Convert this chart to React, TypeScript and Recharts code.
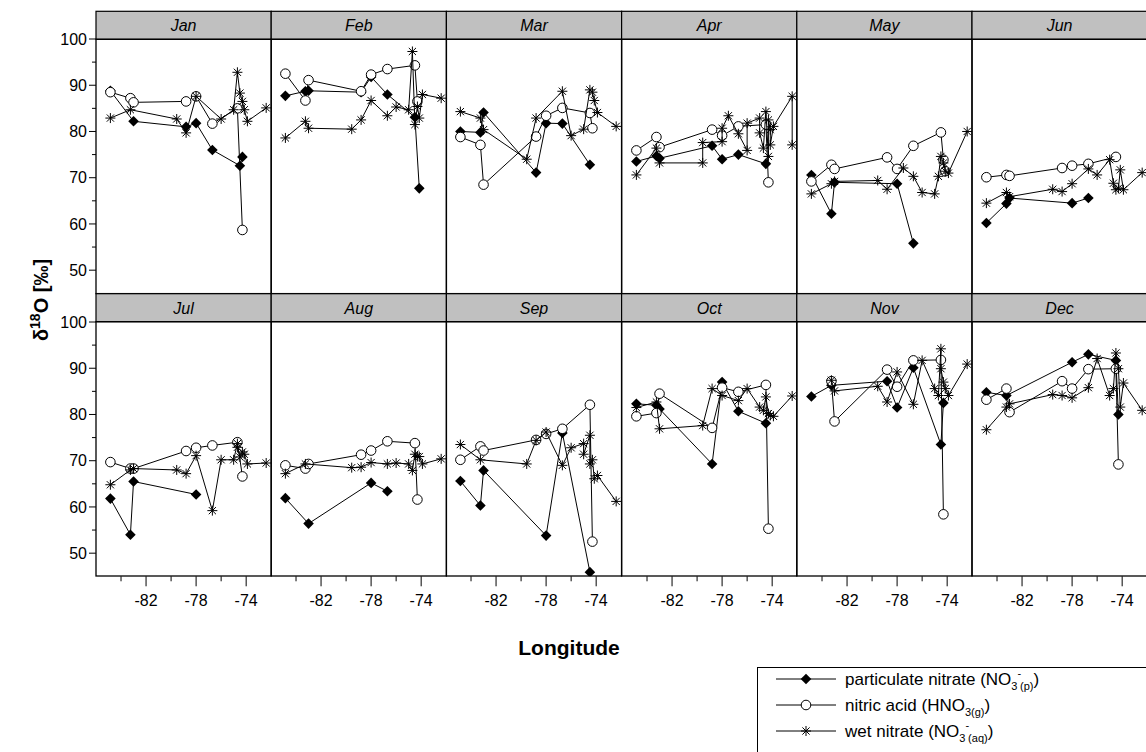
import React from 'react';
import { ScatterChart, Scatter, XAxis, YAxis } from 'recharts';

type Pt = [number, number];

// station longitudes (degrees east)
const A = -84.85, B = -83.25, C = -83.0, D = -79.55, E = -78.8, F = -78.0, P = -77.5, G = -76.7, H = -76.0, I = -75.0, J = -74.7, K = -74.5, L = -74.3, M = -74.15, N = -73.9, O = -72.4;

const months = ['Jan', 'Feb', 'Mar', 'Apr', 'May', 'Jun', 'Jul', 'Aug', 'Sep', 'Oct', 'Nov', 'Dec'];
const xTicks = [-84, -82, -80, -78, -76, -74];
const yTicks = [50, 55, 60, 65, 70, 75, 80, 85, 90, 95, 100];

// particulate nitrate (p), nitric acid (h), wet nitrate (w)
const janP: Pt[] = [[A, 88.8], [C, 82.2], [E, 81.0], [F, 81.8], [G, 76.0], [K, 72.6], [L, 74.5]];
const janH: Pt[] = [[A, 88.5], [B, 87.2], [C, 86.3], [E, 86.5], [F, 87.6], [G, 81.7], [J, 85.0], [L, 58.7]];
const janW: Pt[] = [[A, 82.9], [B, 84.7], [D, 82.7], [E, 79.7], [F, 87.6], [H, 82.7], [I, 84.7], [J, 92.8], [K, 88.3], [L, 86.5], [M, 84.7], [N, 82.2], [O, 85.1]];

const febP: Pt[] = [[A, 87.7], [B, 88.7], [C, 88.8], [E, 88.5], [F, 91.8], [G, 88.0], [K, 83.1], [M, 67.7]];
const febH: Pt[] = [[A, 92.5], [B, 86.7], [C, 91.1], [E, 88.7], [F, 92.3], [G, 93.5], [K, 94.3], [L, 86.5]];
const febW: Pt[] = [[A, 78.6], [B, 82.2], [C, 80.7], [D, 80.5], [E, 82.5], [F, 86.7], [G, 83.4], [H, 85.3], [I, 84.7], [J, 97.3], [K, 81.5], [L, 85.4], [M, 82.9], [N, 88.0], [O, 87.2]];

const marP: Pt[] = [[A, 80.0], [B, 79.8], [C, 84.1], [E, 71.1], [F, 81.8], [G, 81.7], [K, 72.8]];
const marH: Pt[] = [[A, 78.8], [B, 77.1], [C, 68.5], [E, 78.9], [F, 83.4], [G, 85.1], [K, 84.0], [L, 80.7]];
const marW: Pt[] = [[A, 84.3], [B, 82.9], [C, 80.4], [D, 74.0], [E, 82.9], [G, 88.7], [H, 79.1], [I, 80.5], [K, 89.0], [L, 88.5], [M, 86.7], [N, 84.1], [O, 81.1]];

const aprP: Pt[] = [[A, 73.5], [B, 74.7], [C, 74.2], [E, 76.9], [F, 74.0], [G, 75.0], [K, 73.0]];
const aprH: Pt[] = [[A, 75.9], [B, 78.8], [C, 76.6], [E, 80.4], [F, 79.1], [G, 81.1], [K, 81.5], [L, 69.0]];
const aprW: Pt[] = [[A, 70.6], [B, 76.4], [C, 73.2], [D, 73.2], [D, 77.6], [F, 77.8], [F, 80.7], [P, 83.4], [G, 79.5], [H, 75.9], [H, 81.8], [I, 82.9], [I, 79.7], [J, 76.4], [K, 84.3], [L, 74.6], [L, 82.5], [M, 80.4], [M, 77.1], [N, 81.1], [O, 87.6], [O, 77.1]];

const mayP: Pt[] = [[A, 70.6], [B, 62.2], [C, 69.0], [F, 68.7], [G, 55.8]];
const mayH: Pt[] = [[A, 69.2], [B, 72.8], [C, 71.9], [E, 74.4], [F, 71.9], [G, 76.9], [K, 79.8], [L, 73.9], [M, 71.4]];
const mayW: Pt[] = [[A, 66.5], [B, 68.7], [C, 69.2], [D, 69.4], [E, 67.5], [P, 72.1], [G, 70.3], [H, 66.8], [I, 66.5], [J, 70.3], [K, 74.6], [L, 73.2], [M, 71.4], [N, 71.0], [O, 80.0]];

const junP: Pt[] = [[A, 60.2], [B, 64.4], [C, 65.6], [F, 64.5], [G, 65.6]];
const junH: Pt[] = [[A, 70.1], [B, 70.6], [C, 70.4], [E, 72.1], [F, 72.6], [G, 73.0], [K, 74.5]];
const junW: Pt[] = [[A, 64.5], [B, 66.8], [C, 65.9], [D, 67.5], [E, 67.0], [F, 68.7], [G, 71.9], [H, 70.6], [I, 73.9], [J, 68.8], [K, 67.4], [L, 67.7], [M, 71.7], [N, 67.4], [O, 71.1]];

const julP: Pt[] = [[A, 61.8], [B, 54.0], [C, 65.5], [F, 62.7]];
const julH: Pt[] = [[A, 69.7], [B, 68.3], [C, 68.3], [E, 72.1], [F, 72.8], [G, 73.3], [J, 74.0], [L, 66.6]];
const julW: Pt[] = [[A, 64.8], [B, 68.0], [C, 68.3], [D, 68.0], [E, 67.2], [F, 71.1], [G, 59.2], [H, 70.2], [I, 70.2], [J, 73.7], [J, 72.9], [K, 70.8], [L, 71.9], [M, 71.4], [N, 69.3], [O, 69.5]];

const augP: Pt[] = [[A, 61.9], [C, 56.4], [F, 65.2], [G, 63.4]];
const augH: Pt[] = [[A, 69.0], [B, 68.3], [C, 69.3], [E, 71.3], [F, 72.2], [G, 74.2], [K, 73.8], [L, 61.6]];
const augW: Pt[] = [[A, 67.2], [B, 69.3], [D, 68.5], [E, 68.6], [F, 69.6], [G, 69.3], [H, 69.5], [I, 69.3], [J, 67.9], [K, 71.4], [L, 70.9], [M, 70.9], [N, 69.3], [O, 70.4]];

const sepP: Pt[] = [[A, 65.6], [B, 60.3], [C, 67.9], [F, 53.8], [G, 76.0], [K, 45.9]];
const sepH: Pt[] = [[A, 70.2], [B, 73.1], [C, 72.2], [E, 74.5], [F, 75.8], [G, 76.9], [K, 82.1], [L, 52.5]];
const sepW: Pt[] = [[A, 73.5], [B, 70.2], [D, 69.3], [E, 74.4], [F, 76.2], [G, 69.0], [H, 72.8], [I, 73.7], [I, 71.4], [K, 75.5], [K, 69.3], [L, 70.2], [M, 66.1], [N, 66.8], [O, 61.2]];

const octP: Pt[] = [[A, 82.3], [B, 82.0], [C, 81.2], [E, 69.3], [F, 87.0], [G, 80.7], [K, 78.1]];
const octH: Pt[] = [[A, 79.6], [B, 80.3], [C, 84.5], [E, 77.1], [F, 85.8], [G, 84.9], [K, 86.4], [L, 55.3]];
const octW: Pt[] = [[A, 81.5], [B, 82.7], [C, 76.9], [D, 77.6], [E, 85.6], [F, 84.1], [G, 83.0], [H, 85.6], [I, 81.6], [J, 80.9], [K, 83.8], [L, 80.2], [M, 79.8], [N, 79.6], [O, 84.0]];

const novP: Pt[] = [[A, 83.9], [B, 86.3], [E, 87.2], [F, 81.5], [G, 90.1], [K, 73.5], [L, 82.5]];
const novH: Pt[] = [[B, 87.2], [C, 78.5], [E, 89.7], [F, 86.0], [G, 91.7], [K, 91.8], [L, 58.4]];
const novW: Pt[] = [[B, 87.4], [C, 85.1], [D, 86.1], [E, 82.7], [F, 89.2], [G, 82.2], [H, 91.7], [I, 85.6], [J, 84.1], [K, 94.2], [K, 89.9], [L, 87.0], [M, 85.6], [N, 84.1], [O, 90.9]];

const decP: Pt[] = [[A, 84.8], [B, 84.1], [F, 91.3], [G, 93.0], [K, 91.7], [L, 80.0]];
const decH: Pt[] = [[A, 83.2], [B, 85.6], [C, 80.5], [E, 87.2], [F, 85.6], [G, 89.8], [K, 89.9], [L, 69.2]];
const decW: Pt[] = [[A, 76.7], [B, 81.6], [C, 82.3], [D, 84.3], [E, 84.1], [F, 83.6], [G, 85.8], [H, 92.1], [I, 84.1], [J, 85.6], [K, 93.3], [L, 89.9], [M, 81.6], [N, 86.8], [O, 80.9]];

const partSeries = [janP, febP, marP, aprP, mayP, junP, julP, augP, sepP, octP, novP, decP];
const acidSeries = [janH, febH, marH, aprH, mayH, junH, julH, augH, sepH, octH, novH, decH];
const wetSeries = [janW, febW, marW, aprW, mayW, junW, julW, augW, sepW, octW, novW, decW];

const FONT = '"Liberation Sans", Arial, Helvetica, sans-serif';
const COL_LEFT = 96;
const PANEL_W = 175.2;
const PANEL_H = 254.3;
const ROW_TOP = [39.3, 321.7];
const STRIP_H = 28;

const toXY = (pts: Pt[]) => pts.map(([x, y]) => ({ x, y }));

const Diamond = (props: any) => {
  const { cx, cy } = props;
  if (cx == null || cy == null) return null;
  const r = 5.3;
  return <polygon points={`${cx},${cy - r} ${cx + r},${cy} ${cx},${cy + r} ${cx - r},${cy}`} fill="#000" />;
};
const Ring = (props: any) => {
  const { cx, cy } = props;
  if (cx == null || cy == null) return null;
  return <circle cx={cx} cy={cy} r={4.8} fill="#fff" stroke="#000" strokeWidth={1} />;
};
const Star = (props: any) => {
  const { cx, cy } = props;
  if (cx == null || cy == null) return null;
  const r = 5;
  const d = r * 0.72;
  return (
    <g stroke="#000" strokeWidth={1}>
      <line x1={cx - r} y1={cy} x2={cx + r} y2={cy} />
      <line x1={cx} y1={cy - r} x2={cx} y2={cy + r} />
      <line x1={cx - d} y1={cy - d} x2={cx + d} y2={cy + d} />
      <line x1={cx - d} y1={cy + d} x2={cx + d} y2={cy - d} />
    </g>
  );
};

const XTick = (props: any) => {
  const { x, y, payload } = props;
  const v = payload.value;
  const major = Math.abs(v) % 4 === 2;
  return (
    <g>
      <line x1={x} y1={y} x2={x} y2={y + (major ? 10 : 5)} stroke="#000" strokeWidth={1} />
      {major && (
        <text x={x} y={y + 30} textAnchor="middle" fontSize={16} fontFamily={FONT} fill="#000">
          {String(v)}
        </text>
      )}
    </g>
  );
};

const YTick = (props: any) => {
  const { x, y, payload } = props;
  const v = payload.value;
  const major = v % 10 === 0;
  return (
    <g>
      <line x1={x - (major ? 7 : 4)} y1={y} x2={x} y2={y} stroke="#000" strokeWidth={1} />
      {major && (
        <text x={x - 9} y={y} dy="0.36em" textAnchor="end" fontSize={16} fontFamily={FONT} fill="#000">
          {String(v)}
        </text>
      )}
    </g>
  );
};

function Panel({ idx }: { idx: number }) {
  const col = idx % 6;
  const row = Math.floor(idx / 6);
  const showY = col === 0;
  const showX = row === 1;
  const yW = showY ? 60 : 0;
  const xH = showX ? 45 : 0;
  const padT = showY ? 12 : 0;
  const left = COL_LEFT + col * PANEL_W - yW;
  const top = ROW_TOP[row] - padT;
  const w = PANEL_W + yW;
  const h = PANEL_H + xH + padT;
  return (
    <div style={{ position: 'absolute', left, top, width: w, height: h }}>
      <ScatterChart width={w} height={h} margin={{ top: padT, right: 0, bottom: 0, left: 0 }}>
        <XAxis
          type="number"
          dataKey="x"
          domain={[-86, -72]}
          allowDataOverflow
          hide={!showX}
          ticks={xTicks}
          interval={0}
          tick={<XTick />}
          tickSize={0}
          tickMargin={0}
          axisLine={false}
          tickLine={false}
          height={xH}
        />
        <YAxis
          type="number"
          dataKey="y"
          domain={[45, 100]}
          allowDataOverflow
          hide={!showY}
          ticks={yTicks}
          interval={0}
          tick={<YTick />}
          tickSize={0}
          tickMargin={0}
          axisLine={false}
          tickLine={false}
          width={yW}
        />
        <Scatter data={toXY(partSeries[idx])} line={{ stroke: '#000', strokeWidth: 1 }} shape={Diamond} isAnimationActive={false} />
        <Scatter data={toXY(acidSeries[idx])} line={{ stroke: '#000', strokeWidth: 1 }} shape={Ring} isAnimationActive={false} />
        <Scatter data={toXY(wetSeries[idx])} line={{ stroke: '#000', strokeWidth: 1 }} shape={Star} isAnimationActive={false} />
      </ScatterChart>
    </div>
  );
}

function Overlay() {
  const items: React.ReactNode[] = [];
  months.forEach((m, idx) => {
    const col = idx % 6;
    const row = Math.floor(idx / 6);
    const x = COL_LEFT + col * PANEL_W;
    const y = ROW_TOP[row];
    items.push(
      <g key={m}>
        <rect x={x} y={y - STRIP_H} width={PANEL_W} height={STRIP_H} fill="#c0c0c0" stroke="#000" strokeWidth={1.2} />
        <text x={x + PANEL_W / 2} y={y - 8} textAnchor="middle" fontSize={16} fontStyle="italic" fontFamily={FONT} fill="#000">
          {m}
        </text>
        <rect x={x} y={y} width={PANEL_W} height={PANEL_H} fill="none" stroke="#000" strokeWidth={1.3} />
      </g>
    );
  });
  const legendRows = [
    { y: 679, kind: 'p' },
    { y: 705, kind: 'h' },
    { y: 731, kind: 'w' },
  ];
  return (
    <svg width={1146} height={752} style={{ position: 'absolute', left: 0, top: 0, pointerEvents: 'none' }}>
      {items}
      <text transform="translate(48,300) rotate(-90)" textAnchor="middle" fontSize={20} fontWeight="bold" fontFamily={FONT} fill="#000">
        δ<tspan dy={-8} fontSize={14}>18</tspan>
        <tspan dy={8}>O [‰]</tspan>
      </text>
      <text x={569} y={655} textAnchor="middle" fontSize={21} fontWeight="bold" fontFamily={FONT} fill="#000">
        Longitude
      </text>
      <rect x={757.5} y={667.5} width={420} height={110} fill="#fff" stroke="#000" strokeWidth={1} />
      {legendRows.map((r) => (
        <g key={r.kind}>
          <line x1={776} y1={r.y} x2={836} y2={r.y} stroke="#000" strokeWidth={1} />
          {r.kind === 'p' && <Diamond cx={806} cy={r.y} />}
          {r.kind === 'h' && <Ring cx={806} cy={r.y} />}
          {r.kind === 'w' && <Star cx={806} cy={r.y} />}
        </g>
      ))}
      <text x={845} y={685} fontSize={17} fontFamily={FONT} fill="#000">
        particulate nitrate (NO<tspan dy={5} fontSize={11}>3</tspan>
        <tspan dy={-13} fontSize={11}>-</tspan>
        <tspan dy={13} dx={-1} fontSize={11}>(p)</tspan>
        <tspan dy={-5}>)</tspan>
      </text>
      <text x={845} y={711} fontSize={17} fontFamily={FONT} fill="#000">
        nitric acid (HNO<tspan dy={5} fontSize={11}>3(g)</tspan>
        <tspan dy={-5}>)</tspan>
      </text>
      <text x={845} y={737} fontSize={17} fontFamily={FONT} fill="#000">
        wet nitrate (NO<tspan dy={5} fontSize={11}>3</tspan>
        <tspan dy={-13} fontSize={11}>-</tspan>
        <tspan dy={13} dx={-1} fontSize={11}>(aq)</tspan>
        <tspan dy={-5}>)</tspan>
      </text>
    </svg>
  );
}

export default function App() {
  return (
    <div style={{ position: 'absolute', left: 0, top: 0, width: 1146, height: 752, background: '#fff', overflow: 'hidden', fontFamily: FONT }}>
      {months.map((m, idx) => (
        <Panel key={m} idx={idx} />
      ))}
      <Overlay />
    </div>
  );
}
